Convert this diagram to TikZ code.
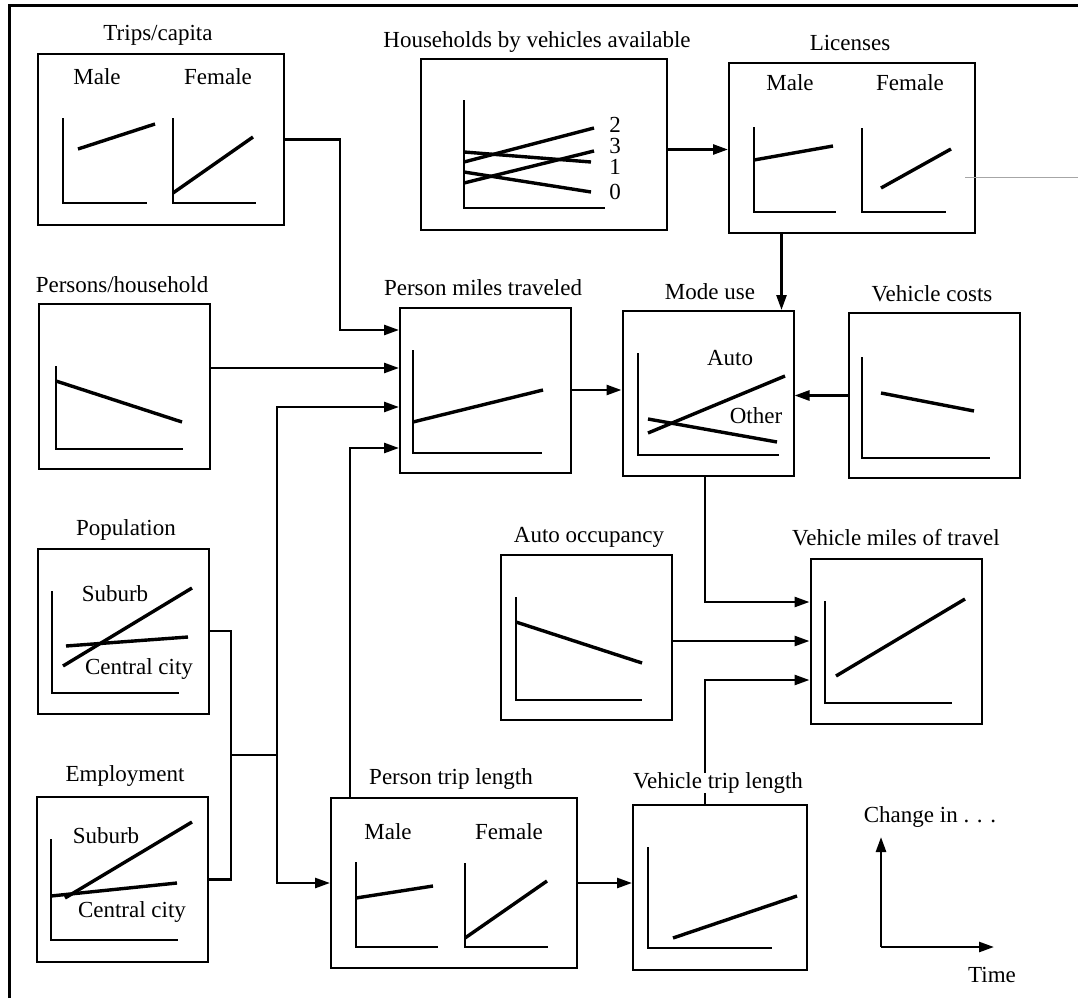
\documentclass[tikz,border=0pt]{standalone}
\usepackage{fontspec}
\setmainfont{Liberation Serif}
\usetikzlibrary{arrows.meta,calc}
\begin{document}
\begin{tikzpicture}[x=1pt,y=-1pt,
  box/.style={draw,line width=2pt,minimum width=171pt,minimum height=165pt,inner sep=0pt},
  wbox/.style={box,minimum width=246pt,minimum height=170pt},
  lbl/.style={inner sep=0pt,font=\fontsize{23}{26}\selectfont},
  axis/.style={line width=2pt},
  trend/.style={line width=3.4pt},
  wire/.style={line width=2.6pt},
  conn/.style={wire,-{Triangle[length=15pt,width=10pt]}},
]
\useasboundingbox (0,0) rectangle (1078,998);

% outer frame
\coordinate (f1) at (9,998);
\coordinate (f2) at (9,6);
\coordinate (f3) at (1078,6);
\draw[line width=3pt] (f1) -- (f2) -- (f3);

% boxes
\node[wbox] (trips) at (161,139.5) {};
\node[wbox] (hh) at (544,144.5) {};
\node[wbox] (lic) at (852,148) {};
\node[box] (pph) at (124.5,386.5) {};
\node[box] (pmt) at (485.5,390) {};
\node[box] (mode) at (708,393.5) {};
\node[box] (vc) at (934,395.5) {};
\node[box] (ao) at (586.5,637) {};
\node[box] (vmt) at (896,641) {};
\node[box] (pop) at (123,631) {};
\node[box] (emp) at (122,879.5) {};
\node[wbox] (ptl) at (454,883) {};
\node[box,minimum width=174pt] (vtl) at (720,887.5) {};

% mini charts
% Trips/capita
\draw[axis] (63,118) |- (147,203);
\draw[trend] (78,149) -- (155,124);
\draw[axis] (173,118) |- (256,203);
\draw[trend] (173,193) -- (253,137);
\node[lbl] (tm) at (97,77) {Male};
\node[lbl] (tf) at (218,77) {Female};
% Households
\draw[axis] (464,100) |- (605,208);
\draw[trend] (464,162) -- (594,128);
\draw[trend] (464,183) -- (594,151);
\draw[trend] (464,152) -- (591,162);
\draw[trend] (464,172) -- (591,192);
\node[lbl] (h2) at (615,125) {2};
\node[lbl] (h3) at (615,146) {3};
\node[lbl] (h1) at (615,167) {1};
\node[lbl] (h0) at (615,192) {0};
% Licenses
\draw[axis] (754,127) |- (836,212);
\draw[trend] (754,160) -- (833,146);
\draw[axis] (862,128) |- (946,212);
\draw[trend] (881,188) -- (951,149);
\node[lbl] (lm) at (790,83) {Male};
\node[lbl] (lf) at (910,83) {Female};
% Persons/household
\draw[axis] (56,366) |- (183,449);
\draw[trend] (56,381) -- (182,422);
% Person miles traveled
\draw[axis] (413,350) |- (542,453);
\draw[trend] (413,422) -- (543,390);
% Mode use
\draw[axis] (638,353) |- (779,455);
\draw[trend] (648,433) -- (785,376);
\draw[trend] (648,419) -- (777,442);
\node[lbl] (mauto) at (730,358) {Auto};
\node[lbl] (mother) at (756,416) {Other};
% Vehicle costs
\draw[axis] (862,357) |- (990,458);
\draw[trend] (881,393) -- (974,411);
% Auto occupancy
\draw[axis] (516,597) |- (642,700);
\draw[trend] (516,622) -- (642,663);
% Vehicle miles of travel
\draw[axis] (825,601) |- (952,703);
\draw[trend] (836,676) -- (965,599);
% Population
\draw[axis] (52,591) |- (179,693);
\draw[trend] (63,666) -- (192,588);
\draw[trend] (66,646) -- (188,637);
\node[lbl] (ps) at (115,594) {Suburb};
\node[lbl] (pc) at (139,669) {Central city};
% Employment
\draw[axis] (51,839) |- (178,940);
\draw[trend] (65,898) -- (192,822);
\draw[trend] (51,896) -- (177,883);
\node[lbl] (es) at (106,836) {Suburb};
\node[lbl] (ec) at (132,912) {Central city};
% Person trip length
\draw[axis] (356,862) |- (438,947);
\draw[trend] (356,898) -- (433,886);
\draw[axis] (465,863) |- (548,947);
\draw[trend] (465,938) -- (547,881);
\node[lbl] (pm) at (388,832) {Male};
\node[lbl] (pf) at (509,832) {Female};
% Vehicle trip length
\draw[axis] (648,847) |- (772,948);
\draw[trend] (673,938) -- (797,896);

% connectors
\coordinate (in1) at ([yshift=60pt]pmt.west);
\coordinate (in2) at ([yshift=22pt]pmt.west);
\coordinate (in3) at ([yshift=-17pt]pmt.west);
\coordinate (in4) at ([yshift=-58pt]pmt.west);
\coordinate (jt) at (340,330);
\draw[conn] (trips.east) -| (jt) -- (in1);
\draw[conn] (pph.east |- in2) -- (in2);
\coordinate (jpe) at (231,755);
\coordinate (jv) at (277,755);
\draw[wire] (pop.east) -| (jpe) |- (emp.east);
\draw[wire] (jpe) -- (jv);
\draw[conn] (jv) |- (in3);
\draw[conn] (jv) |- (ptl.west);
\coordinate (pu) at ([xshift=20pt]ptl.north west);
\draw[conn] (pu) |- (in4);
\draw[conn] (pmt.east) -- (mode.west |- pmt.east);
\coordinate (hout) at ([yshift=-5pt]hh.east);
\draw[conn] (hout) -- (hout -| lic.west);
\coordinate (m1) at ([xshift=-13pt]mode.north east);
\draw[conn] (m1 |- lic.south) -- (m1);
\draw[conn] (vc.west) -- (mode.east |- vc.west);
\coordinate (v1) at ([yshift=39pt]vmt.west);
\coordinate (v3) at ([yshift=-39pt]vmt.west);
\coordinate (md) at ([xshift=-3pt]mode.south);
\draw[conn] (md) |- (v1);
\draw[conn] (vmt.west -| ao.east) -- (vmt.west);
\coordinate (vu) at ([xshift=-15pt]vtl.north);
\draw[conn] (vu) |- (v3);
\draw[conn] (ptl.east) -- (ptl.east -| vtl.west);

% thin line at right of Licenses
\coordinate (tl1) at (965,177);
\coordinate (tl2) at (1078,177);
\draw[gray!70,line width=1pt] (tl1) -- (tl2);

% titles
\node[lbl] (t-trips) at (158,35) {Trips/capita};
\node[lbl] (t-hh) at (537,42) {Households by vehicles available};
\node[lbl] (t-lic) at (850,43) {Licenses};
\node[lbl] (t-pph) at (122,285) {Persons/household};
\node[lbl] (t-pmt) at (483,288) {Person miles traveled};
\node[lbl] (t-mode) at (710,292) {Mode use};
\node[lbl] (t-vc) at (932,294) {Vehicle costs};
\node[lbl] (t-ao) at (589,537) {Auto occupancy};
\node[lbl] (t-vmt) at (896,538) {Vehicle miles of travel};
\node[lbl] (t-pop) at (126,530) {Population};
\node[lbl] (t-emp) at (125,776) {Employment};
\node[lbl] (t-ptl) at (451,779) {Person trip length};
\node[lbl,fill=white,inner xsep=1pt] (t-vtl) at (718,783) {Vehicle trip length};

% legend
\coordinate (lo) at (881,947);
\coordinate (ly) at (881,837);
\coordinate (lx) at (994,947);
\draw[conn] (lo) -- (ly);
\draw[conn] (lo) -- (lx);
\node[lbl] (lchg) at (930,817) {Change in . . .};
\node[lbl] (ltime) at (992,975) {Time};
\end{tikzpicture}
\end{document}
